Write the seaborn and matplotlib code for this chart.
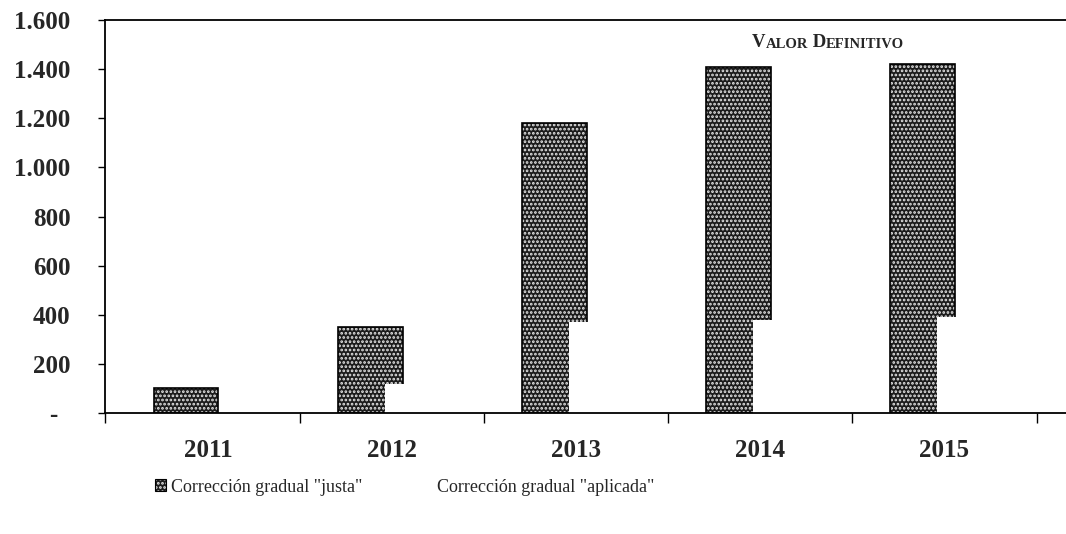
import matplotlib
matplotlib.use("Agg")
import matplotlib.pyplot as plt
import matplotlib.patches as mpatches
import matplotlib.colors as mcolors
import pandas as pd
import seaborn as sns

# ---- data ----
years = ["2011", "2012", "2013", "2014", "2015"]
justa = [100, 350, 1180, 1410, 1420]
aplicada = [0, 120, 370, 380, 390]
series = ['Corrección gradual "justa"', 'Corrección gradual "aplicada"']
yticks = [0, 200, 400, 600, 800, 1000, 1200, 1400, 1600]

df = pd.DataFrame({
    "year": years * 2,
    "value": justa + aplicada,
    "serie": [series[0]] * len(years) + [series[1]] * len(years),
})

sns.set_theme(style="white")
plt.rcParams["font.family"] = ["Liberation Serif", "DejaVu Serif"]
plt.rcParams["hatch.linewidth"] = 1.3

fig = plt.figure(figsize=(10.66, 5.34), dpi=100)
ax = fig.add_axes([0.0985, 0.2266, 0.9015, 0.7359])

dark = "#1c1c1c"
hatch_col = "#e6e6e6"
sns.barplot(data=df, x="year", y="value", hue="serie", order=years,
            hue_order=series, palette=[dark, "white"], saturation=1,
            dodge=True, width=0.8, errorbar=None, legend=False, ax=ax)

bw = 0.353
offsets = [-0.12, 0.137]
for k, (cont, off) in enumerate(zip(ax.containers, offsets)):
    for i, p in enumerate(cont.patches):
        p.set_width(bw)
        p.set_x(i + off - bw / 2)
        if k == 0:
            p.set_facecolor(dark)
            p.set_edgecolor("black")
            p.set_linewidth(1.2)
            p.set_hatch("....")
            try:
                p.set_hatchcolor(hatch_col)
            except AttributeError:
                p._hatch_color = mcolors.to_rgba(hatch_col)
            p.set_zorder(1)
        else:
            p.set_facecolor("white")
            p.set_edgecolor("none")
            p.set_linewidth(0)
            p.set_zorder(1.5)

ax.set_xlim(-0.56, 4.66)
ax.set_ylim(0, 1600)
ax.set_xlabel("")
ax.set_ylabel("")

# y axis
ax.set_yticks(yticks)
ax.set_yticklabels(["-  " if v == 0 else f"{v:,}".replace(",", ".") for v in yticks])
ax.tick_params(axis="y", direction="out", length=5, width=1, color="black",
               pad=20, labelsize=18, left=True)
for t in ax.get_yticklabels():
    t.set_fontweight("bold")

# x axis
ax.set_xticks(range(len(years)))
ax.set_xticklabels(years)
ax.tick_params(axis="x", which="major", length=0, pad=19, labelsize=18)
ax.set_xticks([-0.56] + [i + 0.5 for i in range(0, len(years))], minor=True)
ax.tick_params(axis="x", which="minor", direction="out", length=7, width=1,
               color="black", bottom=True)
for t in ax.get_xticklabels():
    t.set_fontweight("bold")

for s in ["left", "top", "bottom"]:
    ax.spines[s].set_visible(True)
    ax.spines[s].set_color("black")
    ax.spines[s].set_linewidth(1.3)
ax.spines["right"].set_visible(False)
ax.grid(False)

# small-caps annotation "VALOR DEFINITIVO"
pieces = [("V", 13.5), ("ALOR", 10.5), (" D", 13.5), ("EFINITIVO", 10.5)]
prev = None
for txt, sz in pieces:
    if prev is None:
        prev = fig.text(752 / 1066, 1 - 51 / 534, txt, fontsize=sz,
                        fontweight="bold", ha="left", va="bottom")
    else:
        prev = ax.annotate(txt, xy=(1, 0), xycoords=prev, fontsize=sz,
                           fontweight="bold", ha="left", va="bottom",
                           annotation_clip=False)

# legend
h1 = mpatches.Patch(facecolor=dark, edgecolor="black", hatch="....", linewidth=0.8)
try:
    h1.set_hatchcolor(hatch_col)
except AttributeError:
    h1._hatch_color = mcolors.to_rgba(hatch_col)
h2 = mpatches.Patch(facecolor="white", edgecolor="none")
fig.legend([h1, h2], series, loc="center", bbox_to_anchor=(0.3795, 0.088),
           ncol=2, frameon=False, fontsize=13, handlelength=0.6,
           handleheight=0.6, handletextpad=0.3, columnspacing=3.2)

fig.savefig("out.png", dpi=100)
